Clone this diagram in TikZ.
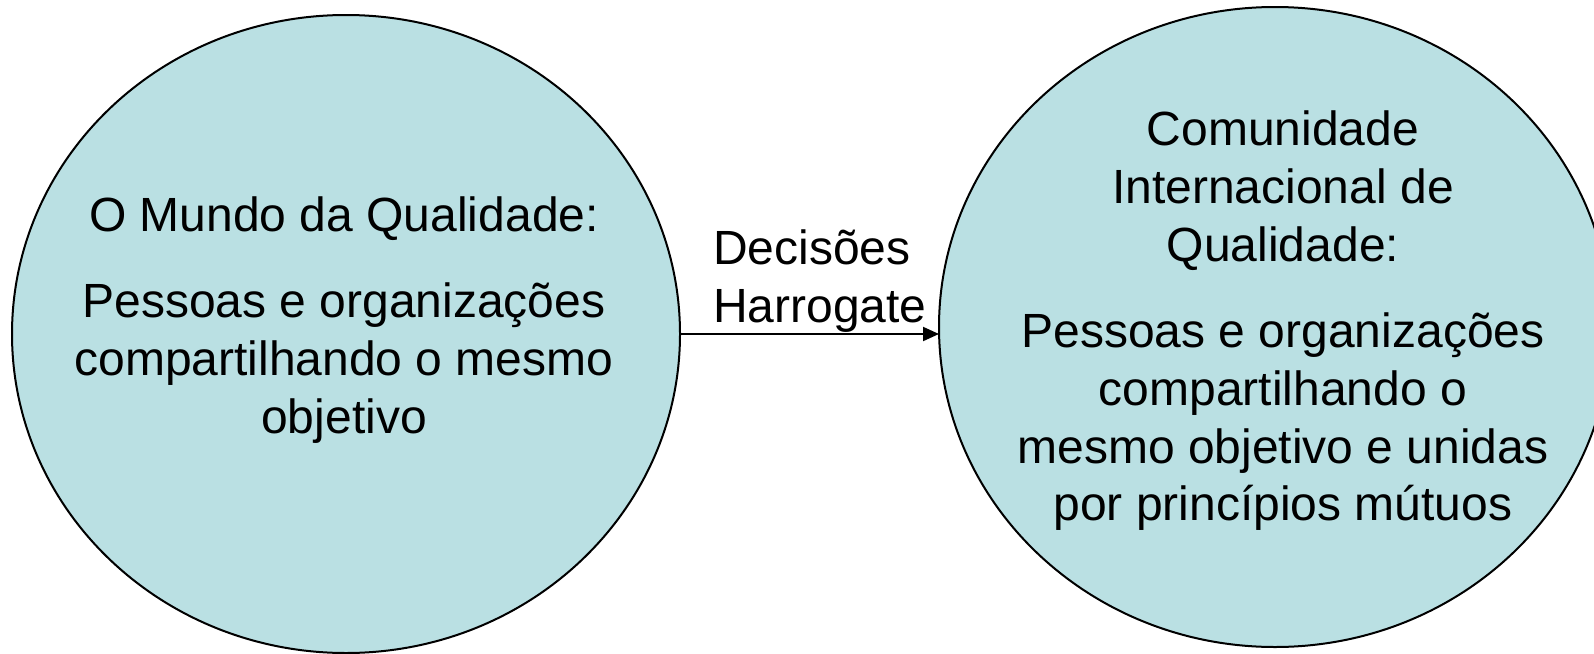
\documentclass[tikz,border=0pt]{standalone}
\usepackage{fontspec}
\setmainfont{Liberation Sans}
\usetikzlibrary{shapes.geometric,arrows.meta}
\definecolor{circfill}{RGB}{186,224,227}
\tikzset{
  bubble/.style={ellipse, draw=black, fill=circfill, line width=2pt, inner sep=0pt, outer sep=0pt},
  txt/.style={inner sep=0pt, anchor=base, font=\fontsize{48}{58}\selectfont},
  conn/.style={line width=2pt, -{Triangle[length=16pt,width=14pt]}}
}
\begin{document}
\begin{tikzpicture}[x=1pt,y=-1pt]
\useasboundingbox (0,0) rectangle (1594,653);
\begin{scope}
\clip (0,0) rectangle (1594,653);
\node[bubble, minimum width=668pt, minimum height=638pt] (L) at (346,334) {};
\node[bubble, minimum width=672pt, minimum height=640pt] (R) at (1275,327) {};
\end{scope}
\node[txt] (l1) at (344,231) {O Mundo da Qualidade:};
\node[txt] (l2) at (344,317) {Pessoas e organizações};
\node[txt] (l3) at (344,375) {compartilhando o mesmo};
\node[txt] (l4) at (344,433) {objetivo};
\node[txt] (r1) at (1283,145) {Comunidade};
\node[txt] (r2) at (1283,203) {Internacional de};
\node[txt] (r3) at (1283,261) {Qualidade:};
\node[txt] (r4) at (1283,347) {Pessoas e organizações};
\node[txt] (r5) at (1283,405) {compartilhando o};
\node[txt] (r6) at (1283,463) {mesmo objetivo e unidas};
\node[txt] (r7) at (1283,520) {por princípios mútuos};
\node[txt, anchor=base west] (d1) at (713,264) {Decisões};
\node[txt, anchor=base west] (d2) at (713,322) {Harrogate};
\draw[conn] (L.east) -- (L.east -| R.west);
\end{tikzpicture}
\end{document}
